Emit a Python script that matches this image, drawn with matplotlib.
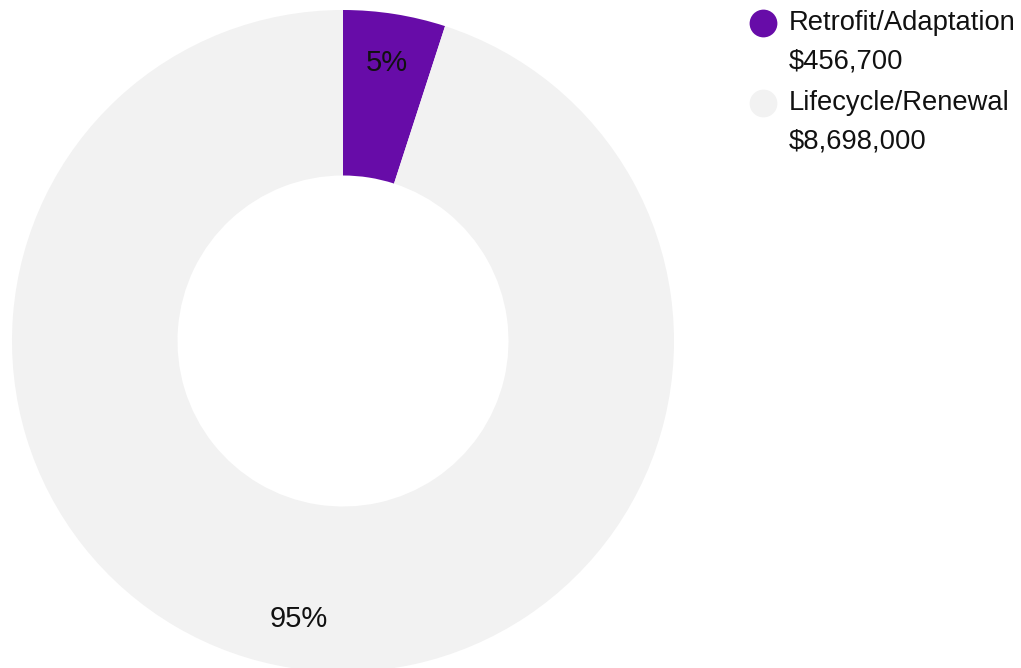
import matplotlib
matplotlib.use("Agg")
import matplotlib.pyplot as plt

plt.rcParams['font.family'] = ['Liberation Sans', 'DejaVu Sans']

categories = ["Retrofit/Adaptation", "Lifecycle/Renewal"]
values = [456700, 8698000]
value_labels = ["$456,700", "$8,698,000"]
colors = ["#670ca8", "#f2f2f2"]

W, H = 1021, 668
fig = plt.figure(figsize=(W / 100, H / 100), dpi=100)

# donut axes: center (343,341) px, radius 331 px
cx, cy, r = 343, 341, 331
ax = fig.add_axes([(cx - r) / W, (H - cy - r) / H, 2 * r / W, 2 * r / H])
wedges, texts, autotexts = ax.pie(
    values, colors=colors, startangle=90, counterclock=False, radius=1.0,
    wedgeprops=dict(width=0.5, linewidth=0), autopct='%.0f%%', pctdistance=0.85,
    textprops=dict(fontsize=21, color="#111111"))
ax.set_xlim(-1, 1)
ax.set_ylim(-1, 1)
ax.set_aspect('equal')
ax.axis('off')

# legend overlay in pixel coordinates
lax = fig.add_axes([0, 0, 1, 1], zorder=5)
lax.set_xlim(0, W)
lax.set_ylim(H, 0)
lax.axis('off')
lax.patch.set_alpha(0)
ys = [23, 103]
for cat, vl, col, y in zip(categories, value_labels, colors, ys):
    lax.plot([763], [y], marker='o', markersize=20, color=col, markeredgewidth=0)
    lax.text(789, y + 7, cat, fontsize=19.7, color="#111111", va='baseline', ha='left')
    lax.text(789, y + 45, vl, fontsize=19.7, color="#111111", va='baseline', ha='left')

fig.savefig("out.png", dpi=100)
